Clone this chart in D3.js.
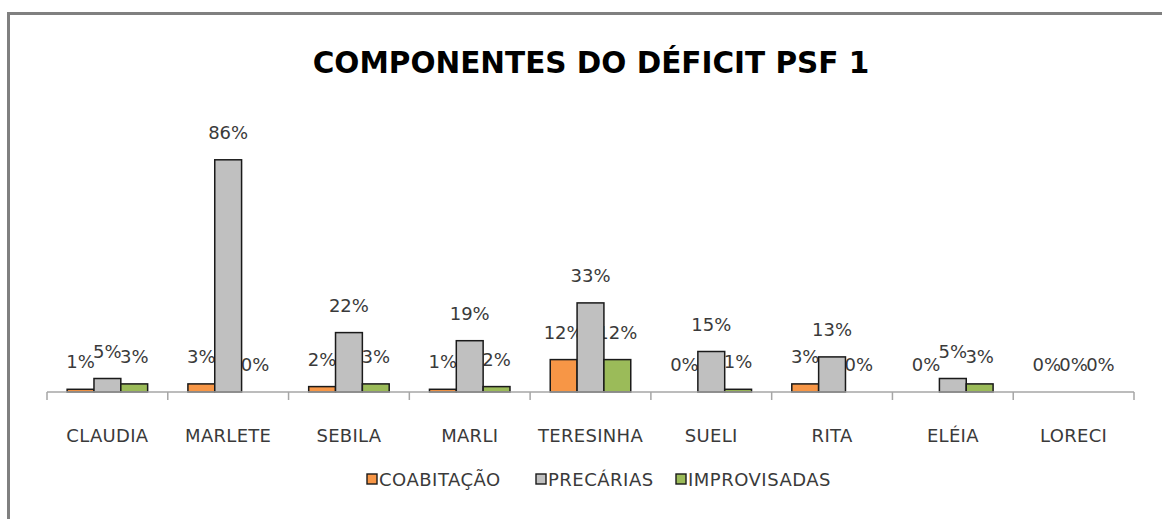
<!DOCTYPE html>
<html lang="pt">
<head>
<meta charset="UTF-8">
<title>Componentes do Déficit PSF 1</title>
<script src="https://d3js.org/d3.v7.min.js"></script>
<style>
  html, body { margin: 0; padding: 0; background: #fff; }
  svg { display: block; font-family: "DejaVu Sans", Verdana, sans-serif; }
</style>
</head>
<body>
<div id="chart"></div>
<script>
const categories = ['CLAUDIA', 'MARLETE', 'SEBILA', 'MARLI', 'TERESINHA', 'SUELI', 'RITA', 'ELÉIA', 'LORECI'];
const seriesNames = ['COABITAÇÃO', 'PRECÁRIAS', 'IMPROVISADAS'];
const coabitacao = [1, 3, 2, 1, 12, 0, 3, 0, 0];
const precarias = [5, 86, 22, 19, 33, 15, 13, 5, 0];
const improvisadas = [3, 0, 3, 2, 12, 1, 0, 3, 0];
const colors = ['#f79646', '#c0c0c0', '#9bbb59'];

const width = 1162, height = 519;
const svg = d3.select('#chart').append('svg')
  .attr('width', width).attr('height', height);

// chart frame (only top and left edges fall inside the picture)
svg.append('path')
  .attr('d', 'M8.5,' + height + ' V13.5 H' + width)
  .attr('fill', 'none')
  .attr('stroke', '#808080')
  .attr('stroke-width', 3);

svg.append('text')
  .attr('x', 591).attr('y', 73)
  .attr('text-anchor', 'middle')
  .attr('font-weight', 'bold')
  .attr('font-size', 29.5)
  .attr('fill', '#000')
  .text('COMPONENTES DO DÉFICIT PSF 1');

const baseY = 392;
const x0 = d3.scaleBand().domain(categories).range([47, 1134]).padding(0);
const bw = x0.bandwidth();
const barW = bw / 4.5;
const x1 = d3.scaleBand().domain(seriesNames)
  .range([barW * 0.75, bw - barW * 0.75]).padding(0);
const y = d3.scaleLinear().domain([0, 100]).range([baseY, 122]);

const rows = [coabitacao, precarias, improvisadas];
const data = [];
rows.forEach((vals, s) => vals.forEach((v, i) => data.push({ cat: categories[i], s, v })));

const labelFont = 18;
const textColor = '#3a3a3a';
function drawLabels(sel) {
  sel.append('text')
    .attr('x', d => x0(d.cat) + x1(seriesNames[d.s]) + x1.bandwidth() / 2)
    .attr('y', d => y(d.v) - 21)
    .attr('text-anchor', 'middle')
    .attr('font-size', labelFont)
    .attr('fill', textColor)
    .text(d => d.v + '%');
}

// side series labels sit under the bars, as in the original
drawLabels(svg.append('g').selectAll('g').data(data.filter(d => d.s !== 1)).join('g'));

svg.append('g').selectAll('rect')
  .data(data.filter(d => d.v > 0))
  .join('rect')
  .attr('x', d => x0(d.cat) + x1(seriesNames[d.s]))
  .attr('y', d => y(d.v))
  .attr('width', x1.bandwidth())
  .attr('height', d => baseY - y(d.v))
  .attr('fill', d => colors[d.s])
  .attr('stroke', '#1a1a1a')
  .attr('stroke-width', 1.5);

drawLabels(svg.append('g').selectAll('g').data(data.filter(d => d.s === 1)).join('g'));

// category axis
const axis = svg.append('g').attr('stroke', '#a6a6a6').attr('stroke-width', 1.5);
axis.append('line').attr('x1', 47).attr('x2', 1134).attr('y1', baseY).attr('y2', baseY);
axis.selectAll('line.tick')
  .data(categories.map(c => x0(c)).concat([x0.range()[1]]))
  .join('line').attr('class', 'tick')
  .attr('x1', d => d).attr('x2', d => d)
  .attr('y1', baseY).attr('y2', baseY + 8);

svg.append('g').selectAll('text')
  .data(categories)
  .join('text')
  .attr('x', d => x0(d) + bw / 2)
  .attr('y', 442)
  .attr('text-anchor', 'middle')
  .attr('font-size', labelFont)
  .attr('letter-spacing', 0.3)
  .attr('fill', textColor)
  .text(d => d);

// legend
const legendX = [367, 536, 676];
const legend = svg.append('g').selectAll('g')
  .data(seriesNames)
  .join('g')
  .attr('transform', (d, i) => 'translate(' + legendX[i] + ',474)');
legend.append('rect')
  .attr('width', 10).attr('height', 10)
  .attr('fill', (d, i) => colors[i])
  .attr('stroke', '#1a1a1a').attr('stroke-width', 1.4);
legend.append('text')
  .attr('x', 12).attr('y', 11.5)
  .attr('font-size', labelFont)
  .attr('letter-spacing', 0.5)
  .attr('fill', textColor)
  .text(d => d);
</script>
</body>
</html>
